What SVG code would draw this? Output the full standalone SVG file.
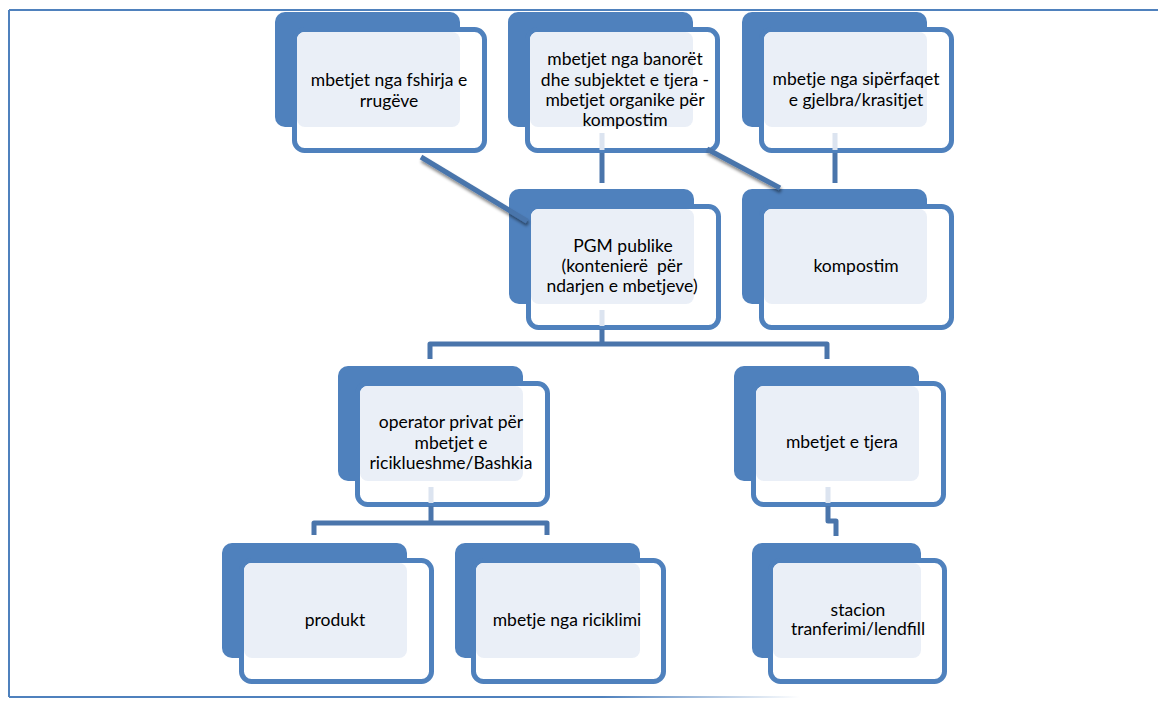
<svg xmlns="http://www.w3.org/2000/svg" width="1158" height="701" viewBox="0 0 1158 701">
<style>
.back{fill:#4F81BD}
.front{fill:#FFFFFF;stroke:#4F81BD;stroke-width:5}
.pale{fill:#EAEFF7}
.lbl{font-family:Lato,"Liberation Sans",sans-serif;font-size:17.5px;fill:#000;text-anchor:middle;white-space:pre}
.con{fill:none;stroke:#4A75AB;stroke-width:5;stroke-linejoin:round}
.faint{fill:none;stroke:#DCE4F0;stroke-width:5}
.frame{fill:none;stroke:#4F81BD;stroke-width:2}
</style>
<defs>
<filter id="sh" x="-20%" y="-40%" width="150%" height="200%">
<feDropShadow dx="1" dy="3" stdDeviation="1.5" flood-color="#000" flood-opacity="0.45"/>
</filter>
<linearGradient id="fade" x1="9" y1="0" x2="800" y2="0" gradientUnits="userSpaceOnUse">
<stop offset="0" stop-color="#4F81BD"/>
<stop offset="0.75" stop-color="#4F81BD"/>
<stop offset="1" stop-color="#4F81BD" stop-opacity="0"/>
</linearGradient>
</defs>
<g id="frame">
<path class="frame" d="M9,10 H1158 M9,10 V697"/>
<path d="M9,697 H800" fill="none" stroke="url(#fade)" stroke-width="2"/>
</g>
<g id="node-fshirja">
<rect class="back" x="275" y="12" width="185" height="115" rx="10"/>
<rect class="front" x="294.5" y="29.5" width="190" height="121" rx="10"/>
<rect class="pale" x="297" y="32" width="163" height="95" rx="8"/>
<text class="lbl" x="389" y="86">mbetjet nga fshirja e</text>
<text class="lbl" x="389" y="107">rrugëve</text>
</g>
<g id="node-banoret">
<rect class="back" x="508" y="12" width="185" height="115" rx="10"/>
<rect class="front" x="527.5" y="29.5" width="190" height="121" rx="10"/>
<rect class="pale" x="530" y="32" width="163" height="95" rx="8"/>
<text class="lbl" x="625" y="65">mbetjet nga banorët</text>
<text class="lbl" x="625" y="85.5">dhe subjektet e tjera -</text>
<text class="lbl" x="625" y="106">mbetjet organike për</text>
<text class="lbl" x="625" y="126">kompostim</text>
</g>
<g id="node-siperfaqet">
<rect class="back" x="742" y="12" width="185" height="115" rx="10"/>
<rect class="front" x="761.5" y="29.5" width="190" height="121" rx="10"/>
<rect class="pale" x="764" y="32" width="163" height="95" rx="8"/>
<text class="lbl" x="856" y="85">mbetje nga sipërfaqet</text>
<text class="lbl" x="856" y="106">e gjelbra/krasitjet</text>
</g>
<g id="node-pgm">
<rect class="back" x="509" y="189" width="185" height="115" rx="10"/>
<rect class="front" x="528.5" y="206.5" width="190" height="121" rx="10"/>
<rect class="pale" x="531" y="209" width="163" height="95" rx="8"/>
<text class="lbl" x="623" y="252">PGM publike</text>
<text class="lbl" x="622" y="272">(kontenierë  për</text>
<text class="lbl" x="622" y="292">ndarjen e mbetjeve)</text>
</g>
<g id="node-kompostim">
<rect class="back" x="742" y="189" width="185" height="115" rx="10"/>
<rect class="front" x="761.5" y="206.5" width="190" height="121" rx="10"/>
<rect class="pale" x="764" y="209" width="163" height="95" rx="8"/>
<text class="lbl" x="856" y="272">kompostim</text>
</g>
<g id="node-operator">
<rect class="back" x="338" y="366" width="185" height="115" rx="10"/>
<rect class="front" x="357.5" y="383.5" width="190" height="121" rx="10"/>
<rect class="pale" x="360" y="386" width="163" height="95" rx="8"/>
<text class="lbl" x="451" y="428">operator privat për</text>
<text class="lbl" x="451" y="449">mbetjet e</text>
<text class="lbl" x="451" y="469">riciklueshme/Bashkia</text>
</g>
<g id="node-tjera">
<rect class="back" x="734" y="366" width="185" height="115" rx="10"/>
<rect class="front" x="753.5" y="383.5" width="190" height="121" rx="10"/>
<rect class="pale" x="756" y="386" width="163" height="95" rx="8"/>
<text class="lbl" x="842" y="448">mbetjet e tjera</text>
</g>
<g id="node-produkt">
<rect class="back" x="222" y="543" width="185" height="115" rx="10"/>
<rect class="front" x="241.5" y="560.5" width="190" height="121" rx="10"/>
<rect class="pale" x="244" y="563" width="163" height="95" rx="8"/>
<text class="lbl" x="335" y="626">produkt</text>
</g>
<g id="node-riciklimi">
<rect class="back" x="455" y="543" width="185" height="115" rx="10"/>
<rect class="front" x="473.5" y="560.5" width="190" height="121" rx="10"/>
<rect class="pale" x="476" y="563" width="164" height="95" rx="8"/>
<text class="lbl" x="567" y="626">mbetje nga riciklimi</text>
</g>
<g id="node-stacion">
<rect class="back" x="752" y="543" width="169" height="115" rx="10"/>
<rect class="front" x="770.5" y="560.5" width="174" height="121" rx="10"/>
<rect class="pale" x="773" y="563" width="148" height="95" rx="8"/>
<text class="lbl" x="858" y="616">stacion</text>
<text class="lbl" x="858" y="635">tranferimi/lendfill</text>
</g>
<g id="connectors">
<path class="faint" d="M602,133 V150 M835,133 V150 M602,310 V326 M431,487 V503 M828,487 V503"/>
<path class="con" filter="url(#sh)" d="M421,157 L527,221"/>
<path class="con" filter="url(#sh)" d="M707,149 L780,188"/>
<path class="con" filter="url(#sh)" d="M666,617 H760"/>
<path class="con" d="M602,153 V183"/>
<path class="con" d="M835,153 V183"/>
<path class="con" d="M602,329 V344 M430,359 V344 H827 V359"/>
<path class="con" d="M431,506 V523 M314,535 V523 H547 V535"/>
<path class="con" d="M828,506 V521 H836 V536"/>
</g>
</svg>
